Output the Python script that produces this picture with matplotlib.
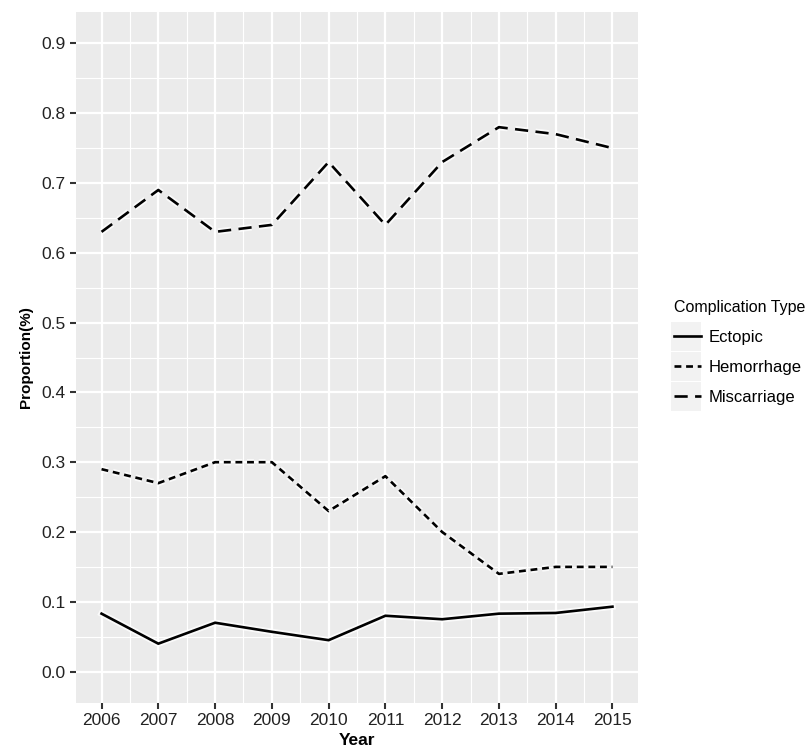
import numpy as np
import matplotlib
matplotlib.use("Agg")
import matplotlib.pyplot as plt
import matplotlib.patheffects as pe
from matplotlib.ticker import MultipleLocator
from matplotlib.lines import Line2D
from matplotlib.patches import Rectangle

years = [2006, 2007, 2008, 2009, 2010, 2011, 2012, 2013, 2014, 2015]
ectopic = [0.083, 0.040, 0.070, 0.057, 0.045, 0.080, 0.075, 0.083, 0.084, 0.093]
hemorrhage = [0.29, 0.27, 0.30, 0.30, 0.23, 0.28, 0.20, 0.14, 0.15, 0.15]
miscarriage = [0.63, 0.69, 0.63, 0.64, 0.73, 0.64, 0.73, 0.78, 0.77, 0.75]
series_names = ["Ectopic", "Hemorrhage", "Miscarriage"]
dashes = [None, (2.6, 1.8), (5, 2.8)]

plt.rcParams['font.family'] = ['Liberation Sans', 'DejaVu Sans']

fig = plt.figure(figsize=(8.12, 7.5), dpi=100)
ax = fig.add_axes([76/812, 47/750, 562/812, 691/750])
ax.set_facecolor("#EBEBEB")

glow = [pe.withStroke(linewidth=4.5, foreground="white", alpha=0.8)]
for vals, name, d in zip([ectopic, hemorrhage, miscarriage], series_names, dashes):
    line, = ax.plot(years, vals, color="black", lw=1.9, label=name,
                    path_effects=glow)
    if d is not None:
        line.set_dashes(d)

ax.set_xlim(2005.55, 2015.45)
ax.set_ylim(-0.045, 0.945)
ax.set_xticks(years)
ax.set_yticks(np.arange(0, 0.91, 0.1))
ax.set_yticklabels([f"{v:.1f}" for v in np.arange(0, 0.91, 0.1)])
ax.xaxis.set_minor_locator(MultipleLocator(0.5))
ax.yaxis.set_minor_locator(MultipleLocator(0.05))
ax.grid(which="major", color="white", lw=1.6)
ax.grid(which="minor", color="white", lw=0.8)
ax.set_axisbelow(True)
for s in ax.spines.values():
    s.set_visible(False)
ax.tick_params(which="major", length=4.5, width=1.5, color="#333333",
               labelsize=12.5, labelcolor="#222222", pad=3)
ax.tick_params(which="minor", length=0)

ax.set_xlabel("Year", fontsize=12.5, fontweight="bold", labelpad=3)
ax.set_ylabel("Proportion(%)", fontsize=11, fontweight="bold", labelpad=6)

# legend key backgrounds
for i, yc in enumerate([336, 366, 396]):
    fig.patches.append(Rectangle((671/812, 1 - (yc + 14.5)/750), 30/812, 29/750,
                                 transform=fig.transFigure, facecolor="#F2F2F2",
                                 edgecolor="none", zorder=0))

handles = []
for name, d in zip(series_names, dashes):
    h = Line2D([0], [0], color="black", lw=1.9)
    if d is not None:
        h.set_dashes(d)
    handles.append(h)
leg = fig.legend(handles, series_names, title="Complication Type",
                 loc="upper left", bbox_to_anchor=(659/812, 1 - 285/750),
                 frameon=False, fontsize=12, title_fontsize=11.5,
                 handlelength=1.6, handletextpad=0.5, labelspacing=0.9)
leg._legend_box.align = "left"

fig.savefig("out.png", dpi=100)
